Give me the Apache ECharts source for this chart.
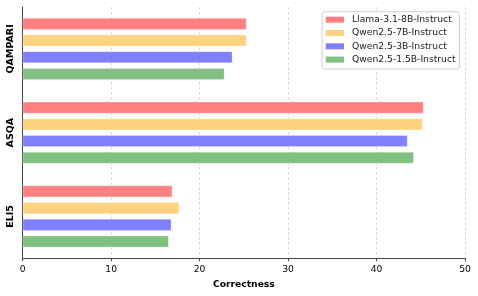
<!DOCTYPE html>
<html><head><meta charset="utf-8">
<script src="https://cdn.jsdelivr.net/npm/echarts@6/dist/echarts.min.js"></script>
<style>html,body{margin:0;padding:0;background:#fff}#c{width:478px;height:296px}</style>
</head><body><div id="c"></div>
<script>
const categories = ['QAMPARI', 'ASQA', 'ELI5'];
const seriesNames = ['Llama-3.1-8B-Instruct', 'Qwen2.5-7B-Instruct', 'Qwen2.5-3B-Instruct', 'Qwen2.5-1.5B-Instruct'];
const llama8b = [25.3, 45.3, 16.9];
const qwen7b = [25.3, 45.2, 17.7];
const qwen3b = [23.7, 43.5, 16.8];
const qwen15b = [22.8, 44.2, 16.5];
const xTicks = [0, 10, 20, 30, 40, 50];
const colors = ['#ff8080', '#ffd280', '#8080ff', '#80c080'];
const values = [llama8b, qwen7b, qwen3b, qwen15b];
const font = 'DejaVu Sans';
const chart = echarts.init(document.getElementById('c'));
chart.setOption({
  animation: false,
  textStyle: { fontFamily: font },
  grid: { left: 22.7, right: 13, top: 7, bottom: 37.7, containLabel: false },
  legend: {
    orient: 'vertical', left: 322, top: 11.7, icon: 'rect',
    itemWidth: 18.3, itemHeight: 6, itemGap: 2.3, itemStyle: { borderWidth: 0 },
    padding: [2.5, 4, 4, 3.7],
    borderColor: '#d0d0d0', borderWidth: 1, borderRadius: 3,
    backgroundColor: 'rgba(255,255,255,0.8)',
    textStyle: { fontFamily: font, fontSize: 9.2, lineHeight: 11, color: '#222', padding: [0, 0, 0, 3] },
    data: seriesNames
  },
  xAxis: {
    type: 'value', min: xTicks[0], max: xTicks[xTicks.length - 1], interval: 10,
    name: 'Correctness', nameLocation: 'middle', nameGap: 22,
    nameTextStyle: { fontFamily: font, fontWeight: 'bold', fontSize: 9.2, color: '#000' },
    axisLine: { show: true, lineStyle: { color: '#444', width: 1 } },
    axisTick: { show: true, length: 3, lineStyle: { color: '#444' } },
    axisLabel: { fontFamily: font, fontSize: 9.2, color: '#000', margin: 6.5 },
    splitLine: { show: true, lineStyle: { type: [3, 2], color: '#d0d0d0', width: 0.8 } }
  },
  yAxis: {
    type: 'category', data: categories, inverse: true,
    axisLine: { show: true, lineStyle: { color: '#444', width: 1 } },
    axisTick: { show: false },
    axisLabel: { rotate: 90, fontFamily: font, fontWeight: 'bold', fontSize: 9.5, color: '#000', margin: 7.5 },
    splitLine: { show: false }
  },
  series: seriesNames.map((n, i) => ({
    name: n, type: 'bar', data: values[i],
    barWidth: 11.7, barGap: '43%',
    itemStyle: { color: colors[i], borderColor: 'rgba(255,255,255,0.6)', borderWidth: 0.5 }
  }))
});
</script></body></html>
